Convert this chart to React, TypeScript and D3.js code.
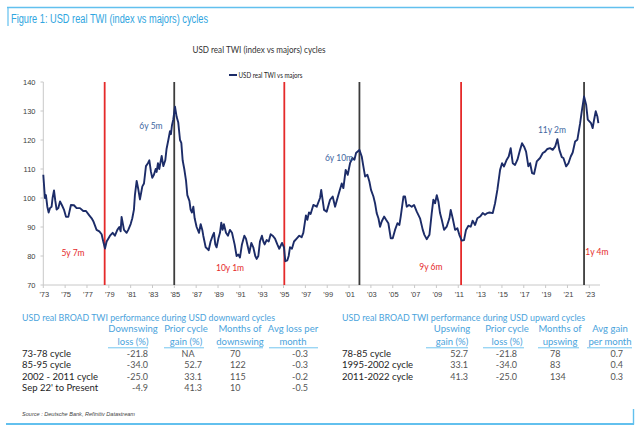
import React from 'react';
import * as d3 from 'd3';

// ---------- DATA ----------
const dates: number[] = [
  1973.00,1973.15,1973.24,1973.37,1973.49,1973.61,1973.76,1973.85,1973.98,1974.10,1974.22,1974.37,1974.53,1974.71,1974.89,
  1975.08,1975.29,1975.53,1975.81,1976.05,1976.36,1976.66,1976.91,1977.21,1977.43,1977.58,1977.88,1978.13,1978.34,1978.49,
  1978.65,1978.80,1979.11,1979.35,1979.56,1979.78,1979.96,1980.08,1980.17,1980.39,1980.63,1980.78,1981.00,1981.15,1981.30,
  1981.39,1981.55,1981.70,1981.85,1982.07,1982.22,1982.40,1982.58,1982.71,1982.86,1982.98,1983.13,1983.29,1983.38,1983.50,
  1983.62,1983.84,1983.99,1984.17,1984.29,1984.45,1984.60,1984.69,1984.78,1984.90,1985.06,1985.21,1985.36,1985.52,1985.64,
  1985.76,1985.91,1986.07,1986.19,1986.38,1986.49,1986.61,1986.74,1986.86,1987.04,1987.26,1987.41,1987.56,1987.65,1987.87,
  1988.02,1988.14,1988.32,1988.51,1988.63,1988.75,1988.87,1989.03,1989.18,1989.30,1989.42,1989.54,1989.73,1989.91,1990.09,
  1990.28,1990.40,1990.52,1990.70,1990.86,1991.01,1991.19,1991.41,1991.56,1991.74,1991.86,1992.05,1992.23,1992.41,1992.54,
  1992.69,1992.84,1993.02,1993.15,1993.27,1993.45,1993.64,1993.82,1994.00,1994.22,1994.43,1994.61,1994.86,1995.04,1995.16,
  1995.35,1995.47,1995.59,1995.77,1995.96,1996.20,1996.44,1996.66,1996.81,1996.93,1997.05,1997.18,1997.33,1997.48,
  1997.73,1998.04,1998.34,1998.45,1998.71,1998.95,1999.26,1999.50,1999.72,2000.02,2000.33,2000.48,2000.69,2000.88,2001.09,
  2001.31,2001.49,2001.64,2001.95,2002.16,2002.31,2002.47,2002.68,2002.86,2003.01,2003.23,2003.38,2003.53,2003.69,2003.84,
  2003.99,2004.21,2004.39,2004.60,2004.82,2005.00,2005.21,2005.43,2005.61,2005.73,2005.98,2006.13,2006.28,2006.49,2006.74,
  2006.95,2007.20,2007.50,2007.75,2007.90,2008.11,2008.36,2008.57,2008.72,2008.88,2009.03,2009.18,2009.33,2009.49,2009.70,
  2009.94,2010.19,2010.31,2010.49,2010.71,2010.92,2011.10,2011.32,2011.53,2011.71,2011.93,2012.14,2012.32,2012.54,2012.75,
  2013.00,2013.24,2013.45,2013.67,2013.85,2014.16,2014.37,2014.58,2014.83,2015.01,2015.19,2015.44,2015.62,2015.80,2015.99,
  2016.20,2016.42,2016.66,2016.84,2017.03,2017.21,2017.42,2017.58,2017.76,2017.94,2018.19,2018.49,2018.74,2018.95,2019.16,
  2019.41,2019.65,2019.87,2020.08,2020.26,2020.48,2020.63,2020.88,2021.09,2021.30,2021.48,2021.70,2021.91,2022.16,2022.31,
  2022.52,2022.71,2022.86,2023.01,2023.16,2023.31,2023.44,2023.59,2023.74,2023.83,
];
const twi: number[] = [
  108,100,101,97,95,96.5,97,100,102.6,99,96,96.5,98.8,97.5,96,
  93.5,93.5,97.6,97.5,96.5,96.5,95.5,95.5,94,93,92,89,88.5,87.5,85,
  82.6,85,87,88,87,89,90,88.5,93.5,89,88,89,91,93,96,
  101,105.9,103,99.5,104,105,111,112,113,109,107,108,110,109,112,
  110,114.5,111,113,117,120,123,122,125,127,131.5,128,126,120,119,
  113,110,106,101,99,96,95,97,93,90,88,91,89,87,83,
  82.5,82,85,87,88,84,83,86,88,91.5,89,91,88,87,89,
  88,86,84,80,80.5,79.5,84,87,86,83,81,84.5,83,80,79,
  80,85,87,85,84,85.5,85,87.5,87,86,84,82.5,84.5,83,78.2,
  78.5,80,83,82.5,85,86,87,86.5,88,91,94,92.5,95,94.5,
  97.6,97,100,102.8,95.9,95.3,99.4,100.5,97,101,105,103.4,109.7,108,112,
  113.8,113.2,115.5,116.6,114.3,110.9,107.4,108,105.7,102.8,100.5,98.2,94.8,93,90.1,
  91.9,93.6,92.5,91.3,86.1,86.1,89,91.3,90.7,93.6,100.5,100.5,97,97.6,97,
  97.6,95.3,93,89,87.3,85.8,87.3,94.8,99.4,98.2,101,98.8,94.8,92.5,89,
  90.1,93,95.9,93,89,89.6,87.3,85.3,85.5,89,90.4,90.1,92.2,90.7,93,
  93.6,94.8,94.2,94.8,95,94.8,98.2,102.8,109.7,112,110.9,113.2,114.3,117.2,112,
  111.4,113.2,116.6,118.9,117.7,116,110.9,112,108.6,108.3,112.6,113.8,115.5,116,116.9,
  117.2,116.6,117.7,120.3,116.6,114.1,113.8,110.9,112,114.3,115.7,119.5,120.1,125.8,129.9,
  135,132.2,127,126.4,125.8,124.1,127,129.9,128.1,125.8,
];

const yTicks = [70, 80, 90, 100, 110, 120, 130, 140];
const xTickYears = d3.range(1973, 2024, 2);

const cycleDates = [1978.62, 1984.99, 1995.07, 2001.95, 2011.26, 2022.52];
const cycleKinds = ['trough', 'peak', 'trough', 'peak', 'trough', 'peak'];

const annText = ['5y 7m', '6y 5m', '10y 1m', '6y 10m', '9y 6m', '11y 2m', '1y 4m'];
const annYear = [1975.72, 1982.86, 1990.1, 2000.08, 2008.5, 2019.58, 2023.7];
const annValue = [81.0, 124.8, 75.9, 113.8, 76.2, 123.4, 81.4];
const annKind = ['down', 'up', 'down', 'up', 'down', 'up', 'down'];

const downTitle = 'USD real BROAD TWI performance during USD downward cycles';
const downHeaders = [['Downswing', 'loss (%)'], ['Prior cycle', 'gain (%)'], ['Months of', 'downswing'], ['Avg loss per', 'month']];
const downRows = ['73-78 cycle', '85-95 cycle', '2002 - 2011 cycle', "Sep 22' to Present"];
const downLoss = ['-21.8', '-34.0', '-25.0', '-4.9'];
const downPrior = ['NA', '52.7', '33.1', '41.3'];
const downMonths = ['70', '122', '115', '10'];
const downAvg = ['-0.3', '-0.3', '-0.2', '-0.5'];

const upTitle = 'USD real BROAD TWI performance during USD upward cycles';
const upHeaders = [['Upswing', 'gain (%)'], ['Prior cycle', 'loss (%)'], ['Months of', 'upswing'], ['Avg gain', 'per month']];
const upRows = ['78-85 cycle', '1995-2002 cycle', '2011-2022 cycle'];
const upGain = ['52.7', '33.1', '41.3'];
const upPrior = ['-21.8', '-34.0', '-25.0'];
const upMonths = ['78', '83', '134'];
const upAvg = ['0.7', '0.4', '0.3'];

// ---------- STYLE ----------
const RED = '#e52a2a';
const DARK = '#3c3c3c';
const NAVY = '#1c2c68';
const LBLUE = '#4aa3dc';
const BORDER = '#62c0ee';
const ANN_BLUE = '#41679f';
const chartFont = '"Liberation Sans", Arial, sans-serif';
const tableFont = 'Lato, "Open Sans", sans-serif';

const x = d3.scaleLinear().domain([1973, 2023]).range([43.3, 589.3]);
const y = d3.scaleLinear().domain([70, 140]).range([285, 82]);

type ColSpec = { x: number; anchor: 'start' | 'middle' | 'end' };

function Table(props: {
  title: string; titleX: number; titleW: number;
  headers: string[][]; headerCenters: number[]; underlines: number[][];
  rows: string[]; labelX: number; cols: string[][]; colSpecs: ColSpec[];
}) {
  const rowBase = [356.5, 368, 379.5, 391];
  return (
    <g fontFamily={tableFont}>
      <text x={props.titleX} y={321} fontSize={9.5} fill={LBLUE} textLength={props.titleW} lengthAdjust="spacingAndGlyphs">{props.title}</text>
      {props.headers.map((h, i) => (
        <g key={i}>
          <text x={props.headerCenters[i]} y={332} fontSize={9.5} fill={LBLUE} textAnchor="middle">{h[0]}</text>
          <text x={props.headerCenters[i]} y={345} fontSize={9.5} fill={LBLUE} textAnchor="middle">{h[1]}</text>
          <line x1={props.underlines[i][0]} x2={props.underlines[i][1]} y1={347.8} y2={347.8} stroke={BORDER} strokeWidth={0.9} />
        </g>
      ))}
      {props.rows.map((r, ri) => (
        <g key={r}>
          <text x={props.labelX} y={rowBase[ri]} fontSize={9.5} fill="#1e1e1e">{r}</text>
          {props.cols.map((c, ci) => {
            const v = c[ri];
            const spec = v === 'NA' ? { x: props.colSpecs[ci].x - 14, anchor: 'middle' as const } : props.colSpecs[ci];
            return (
              <text key={ci} x={spec.x} y={rowBase[ri]} fontSize={9} fill="#555" textAnchor={spec.anchor}>{v}</text>
            );
          })}
        </g>
      ))}
    </g>
  );
}

export default function App() {
  const pts: [number, number][] = dates.map((d, i) => [d, twi[i]]);
  const line = d3.line<[number, number]>().x(d => x(d[0])).y(d => y(d[1]));
  const path = line(pts) || '';

  return (
    <svg width={640} height={431} style={{ position: 'absolute', left: 0, top: 0, background: '#fff' }}>
      <rect x={0} y={0} width={640} height={431} fill="#fff" />
      {/* frame */}
      <line x1={7} x2={634} y1={7.5} y2={7.5} stroke={BORDER} strokeWidth={1.6} />
      <line x1={8} x2={8} y1={7} y2={26} stroke={BORDER} strokeWidth={1.2} />
      <line x1={6} x2={634} y1={424} y2={424} stroke={BORDER} strokeWidth={1.8} />
      <line x1={633.5} x2={633.5} y1={409} y2={424.5} stroke={BORDER} strokeWidth={1.4} />

      <text x={11} y={22.5} fontFamily={chartFont} fontSize={12} fill="#2fa5e0" textLength={197} lengthAdjust="spacingAndGlyphs">
        Figure 1: USD real TWI (index vs majors) cycles
      </text>

      {/* chart title */}
      <text x={259} y={53} fontFamily={tableFont} fontSize={10} fill="#333" textAnchor="middle" textLength={133} lengthAdjust="spacingAndGlyphs">
        USD real TWI (index vs majors) cycles
      </text>

      {/* legend */}
      <line x1={229} x2={237} y1={75} y2={75} stroke={NAVY} strokeWidth={2} />
      <text x={238.5} y={77.5} fontFamily={tableFont} fontSize={7.5} fill="#222" textLength={64} lengthAdjust="spacingAndGlyphs">
        USD real TWI vs majors
      </text>

      {/* axes */}
      <g fontFamily={chartFont} fontSize={7.5} fill="#404040">
        <line x1={43.3} x2={43.3} y1={82} y2={285} stroke="#c8c8c8" strokeWidth={1} />
        <line x1={43.3} x2={600} y1={285} y2={285} stroke="#c8c8c8" strokeWidth={1} />
        {yTicks.map(t => (
          <g key={t}>
            <line x1={40.5} x2={43.3} y1={y(t)} y2={y(t)} stroke="#c8c8c8" />
            <text x={35.5} y={y(t) + 2.7} textAnchor="end">{t}</text>
          </g>
        ))}
        {xTickYears.map(yr => (
          <g key={yr}>
            <line x1={x(yr)} x2={x(yr)} y1={285} y2={288} stroke="#c8c8c8" />
            <text x={x(yr) + 1} y={296.5} textAnchor="middle">{"'" + String(yr % 100).padStart(2, '0')}</text>
          </g>
        ))}
      </g>

      {/* cycle lines */}
      {cycleDates.map((d, i) => (
        <line key={d} x1={x(d)} x2={x(d)} y1={y(140)} y2={y(70)}
          stroke={cycleKinds[i] === 'trough' ? RED : DARK} strokeWidth={1.8} />
      ))}

      {/* series */}
      <path d={path} fill="none" stroke={NAVY} strokeWidth={1.9} strokeLinejoin="round" />

      {/* annotations */}
      {annText.map((t, i) => (
        <text key={t} x={x(annYear[i])} y={y(annValue[i]) + 3} fontFamily={tableFont} fontSize={8.5}
          fill={annKind[i] === 'down' ? RED : ANN_BLUE} textAnchor="middle">{t}</text>
      ))}

      {/* tables */}
      <Table
        title={downTitle} titleX={22} titleW={253}
        headers={downHeaders} headerCenters={[133, 186, 240, 293]}
        underlines={[[108, 148], [164, 204], [218, 263], [269, 318]]}
        rows={downRows} labelX={22}
        cols={[downLoss, downPrior, downMonths, downAvg]}
        colSpecs={[{ x: 148, anchor: 'end' }, { x: 202, anchor: 'end' }, { x: 230, anchor: 'start' }, { x: 308, anchor: 'end' }]}
      />
      <Table
        title={upTitle} titleX={342} titleW={243}
        headers={upHeaders} headerCenters={[452, 507, 560, 610]}
        underlines={[[426, 468], [483, 524], [538, 579], [587, 632]]}
        rows={upRows} labelX={342}
        cols={[upGain, upPrior, upMonths, upAvg]}
        colSpecs={[{ x: 468, anchor: 'end' }, { x: 517, anchor: 'end' }, { x: 550, anchor: 'start' }, { x: 623, anchor: 'end' }]}
      />

      <text x={22} y={416} fontFamily={chartFont} fontSize={6} fontStyle="italic" fill="#444" textLength={113} lengthAdjust="spacingAndGlyphs">
        Source : Deutsche Bank, Refinitiv Datastream
      </text>
    </svg>
  );
}
